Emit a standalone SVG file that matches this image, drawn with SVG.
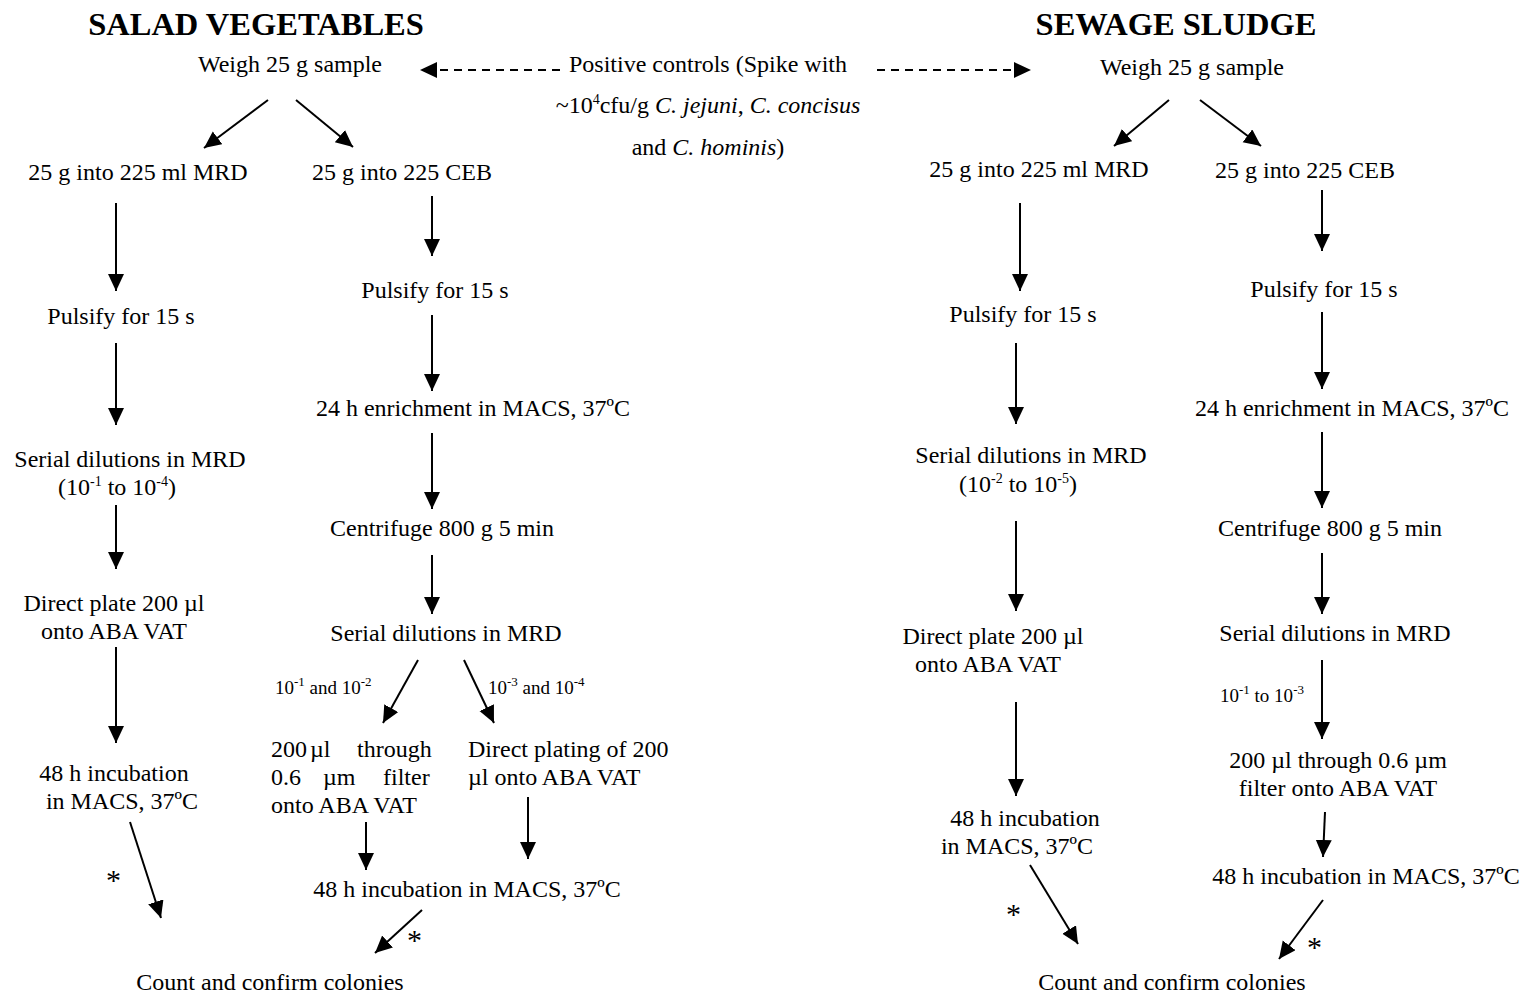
<svg xmlns="http://www.w3.org/2000/svg" width="1525" height="994" viewBox="0 0 1525 994">
  <defs>
    <marker id="ah" markerUnits="userSpaceOnUse" markerWidth="20" markerHeight="18" refX="17" refY="8" orient="auto">
      <path d="M0,0 L17,8 L0,16 Z" fill="#000"/>
    </marker>
  </defs>
  <style>
    text { font-family: "Liberation Serif", "Times New Roman", serif; font-size: 24px; fill: #000; }
    .c { text-anchor: middle; }
    .title { font-size: 32.5px; font-weight: bold; text-anchor: middle; }
    .sm { font-size: 19px; }
    .sup { font-size: 14px; }
    .star { font-size: 30px; }
    .it { font-style: italic; }
    .ln { stroke: #000; stroke-width: 2; fill: none; marker-end: url(#ah); }
    .dash { stroke: #000; stroke-width: 2; fill: none; stroke-dasharray: 8 6; marker-end: url(#ah); }
  </style>
  <rect width="1525" height="994" fill="#fff"/>

  <!-- connectors -->
  <g id="connectors">
    <!-- salad vegetables -->
    <line class="ln" x1="268" y1="100" x2="204" y2="148"/>
    <line class="ln" x1="296" y1="100" x2="353" y2="147"/>
    <line class="ln" x1="116" y1="203" x2="116" y2="291"/>
    <line class="ln" x1="116" y1="343" x2="116" y2="425"/>
    <line class="ln" x1="116" y1="505" x2="116" y2="569"/>
    <line class="ln" x1="116" y1="647" x2="116" y2="743"/>
    <line class="ln" x1="130" y1="822" x2="161" y2="918"/>
    <line class="ln" x1="432" y1="196" x2="432" y2="256"/>
    <line class="ln" x1="432" y1="315" x2="432" y2="391"/>
    <line class="ln" x1="432" y1="433" x2="432" y2="509"/>
    <line class="ln" x1="432" y1="555" x2="432" y2="614"/>
    <line class="ln" x1="418" y1="660" x2="383" y2="723"/>
    <line class="ln" x1="464" y1="660" x2="494" y2="723"/>
    <line class="ln" x1="366" y1="822" x2="366" y2="870"/>
    <line class="ln" x1="528" y1="797" x2="528" y2="859"/>
    <line class="ln" x1="422" y1="910" x2="375" y2="953"/>
    <!-- positive controls -->
    <line class="dash" x1="560" y1="70" x2="420" y2="70"/>
    <line class="dash" x1="877" y1="70" x2="1031" y2="70"/>
    <!-- sewage sludge -->
    <line class="ln" x1="1169" y1="100" x2="1114" y2="146"/>
    <line class="ln" x1="1200" y1="100" x2="1261" y2="146"/>
    <line class="ln" x1="1020" y1="203" x2="1020" y2="291"/>
    <line class="ln" x1="1016" y1="343" x2="1016" y2="424"/>
    <line class="ln" x1="1016" y1="521" x2="1016" y2="611"/>
    <line class="ln" x1="1016" y1="702" x2="1016" y2="796"/>
    <line class="ln" x1="1030" y1="865" x2="1078" y2="944"/>
    <line class="ln" x1="1322" y1="190" x2="1322" y2="251"/>
    <line class="ln" x1="1322" y1="312" x2="1322" y2="389"/>
    <line class="ln" x1="1322" y1="432" x2="1322" y2="508"/>
    <line class="ln" x1="1322" y1="553" x2="1322" y2="614"/>
    <line class="ln" x1="1322" y1="660" x2="1322" y2="739"/>
    <line class="ln" x1="1325" y1="812" x2="1323" y2="857"/>
    <line class="ln" x1="1323" y1="900" x2="1279" y2="959"/>
  </g>

  <!-- headings -->
  <g id="heading-salad"><text class="title" x="256" y="35">SALAD VEGETABLES</text></g>
  <g id="heading-sewage"><text class="title" x="1176" y="35">SEWAGE SLUDGE</text></g>

  <!-- positive controls -->
  <g id="positive-controls">
    <text class="c" x="708" y="72">Positive controls (Spike with</text>
    <text class="c" x="708" y="113">~10<tspan class="sup" dy="-9">4</tspan><tspan dy="9">cfu/g  </tspan><tspan class="it">C. jejuni</tspan>, <tspan class="it">C. concisus</tspan></text>
    <text class="c" x="708" y="155">and <tspan class="it">C. hominis</tspan>)</text>
  </g>

  <!-- salad vegetables, MRD branch -->
  <g id="sv-weigh"><text class="c" x="290" y="72">Weigh 25 g sample</text></g>
  <g id="sv-mrd"><text class="c" x="138" y="180">25 g into 225 ml MRD</text></g>
  <g id="sv-pulsify-mrd"><text class="c" x="121" y="324">Pulsify for 15 s</text></g>
  <g id="sv-serial-mrd">
    <text class="c" x="130" y="467">Serial dilutions in MRD</text>
    <text class="c" x="117" y="495">(10<tspan class="sup" dy="-9">-1</tspan><tspan dy="9"> to 10</tspan><tspan class="sup" dy="-9">-4</tspan><tspan dy="9">)</tspan></text>
  </g>
  <g id="sv-direct-plate">
    <text class="c" x="114" y="611">Direct plate 200 µl</text>
    <text class="c" x="114" y="639">onto ABA VAT</text>
  </g>
  <g id="sv-incubation-mrd">
    <text class="c" x="114" y="781">48 h incubation</text>
    <text class="c" x="122" y="809">in MACS, 37ºC</text>
  </g>
  <g id="sv-star-1"><text class="star" x="106" y="890">*</text></g>

  <!-- salad vegetables, CEB branch -->
  <g id="sv-ceb"><text class="c" x="402" y="180">25 g into 225 CEB</text></g>
  <g id="sv-pulsify-ceb"><text class="c" x="435" y="298">Pulsify for 15 s</text></g>
  <g id="sv-enrichment"><text class="c" x="473" y="416">24 h enrichment in MACS, 37ºC</text></g>
  <g id="sv-centrifuge"><text class="c" x="442" y="536">Centrifuge 800 g 5 min</text></g>
  <g id="sv-serial-ceb"><text class="c" x="446" y="641">Serial dilutions in MRD</text></g>
  <g id="sv-label-low">
    <text class="sm" x="275" y="694">10<tspan font-size="13" dy="-8">-1</tspan><tspan dy="8"> and 10</tspan><tspan font-size="13" dy="-8">-2</tspan></text>
  </g>
  <g id="sv-label-high">
    <text class="sm" x="488" y="694">10<tspan font-size="13" dy="-8">-3</tspan><tspan dy="8"> and 10</tspan><tspan font-size="13" dy="-8">-4</tspan></text>
  </g>
  <g id="sv-filter">
    <text y="757"><tspan x="271">200</tspan><tspan x="310">µl</tspan><tspan x="357">through</tspan></text>
    <text y="785"><tspan x="271">0.6</tspan><tspan x="323">µm</tspan><tspan x="383">filter</tspan></text>
    <text x="271" y="813">onto ABA VAT</text>
  </g>
  <g id="sv-direct-plating">
    <text x="468" y="757">Direct plating of 200</text>
    <text x="468" y="785">µl onto ABA VAT</text>
  </g>
  <g id="sv-incubation-ceb"><text class="c" x="467" y="897">48 h incubation in MACS, 37ºC</text></g>
  <g id="sv-star-2"><text class="star" x="407" y="950">*</text></g>
  <g id="sv-count"><text class="c" x="270" y="990">Count and confirm colonies</text></g>

  <!-- sewage sludge, MRD branch -->
  <g id="ss-weigh"><text class="c" x="1192" y="75">Weigh 25 g sample</text></g>
  <g id="ss-mrd"><text class="c" x="1039" y="177">25 g into 225 ml MRD</text></g>
  <g id="ss-pulsify-mrd"><text class="c" x="1023" y="322">Pulsify for 15 s</text></g>
  <g id="ss-serial-mrd">
    <text class="c" x="1031" y="463">Serial dilutions in MRD</text>
    <text class="c" x="1018" y="492">(10<tspan class="sup" dy="-9">-2</tspan><tspan dy="9"> to 10</tspan><tspan class="sup" dy="-9">-5</tspan><tspan dy="9">)</tspan></text>
  </g>
  <g id="ss-direct-plate">
    <text class="c" x="993" y="644">Direct plate 200 µl</text>
    <text class="c" x="988" y="672">onto ABA VAT</text>
  </g>
  <g id="ss-incubation-mrd">
    <text class="c" x="1025" y="826">48 h incubation</text>
    <text class="c" x="1017" y="854">in MACS, 37ºC</text>
  </g>
  <g id="ss-star-1"><text class="star" x="1006" y="924">*</text></g>

  <!-- sewage sludge, CEB branch -->
  <g id="ss-ceb"><text class="c" x="1305" y="178">25 g into 225 CEB</text></g>
  <g id="ss-pulsify-ceb"><text class="c" x="1324" y="297">Pulsify for 15 s</text></g>
  <g id="ss-enrichment"><text class="c" x="1352" y="416">24 h enrichment in MACS, 37ºC</text></g>
  <g id="ss-centrifuge"><text class="c" x="1330" y="536">Centrifuge 800 g 5 min</text></g>
  <g id="ss-serial-ceb"><text class="c" x="1335" y="641">Serial dilutions in MRD</text></g>
  <g id="ss-label">
    <text class="sm" x="1220" y="702">10<tspan font-size="13" dy="-8">-1</tspan><tspan dy="8"> to 10</tspan><tspan font-size="13" dy="-8">-3</tspan></text>
  </g>
  <g id="ss-filter">
    <text class="c" x="1338" y="768">200 µl through 0.6 µm</text>
    <text class="c" x="1338" y="796">filter onto ABA VAT</text>
  </g>
  <g id="ss-incubation-ceb"><text class="c" x="1366" y="884">48 h incubation in MACS, 37ºC</text></g>
  <g id="ss-star-2"><text class="star" x="1307" y="957">*</text></g>
  <g id="ss-count"><text class="c" x="1172" y="990">Count and confirm colonies</text></g>
</svg>
